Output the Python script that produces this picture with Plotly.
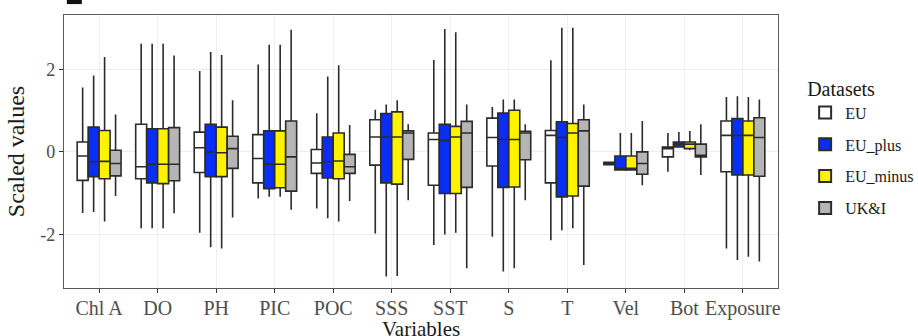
import plotly.graph_objects as go

categories = ["Chl A", "DO", "PH", "PIC", "POC", "SSS", "SST", "S", "T", "Vel", "Bot", "Exposure"]
datasets = ["EU", "EU_plus", "EU_minus", "UK&I"]
fill_colors = ["#FFFFFF", "#0A2EF5", "#FFF200", "#B5B5B5"]

# EU
eu_low = [-1.48, -1.85, -1.96, -1.13, -1.37, -1.98, -2.26, -2.06, -2.14, -0.33, -0.48, -2.34]
eu_q1 = [-0.69, -0.65, -0.50, -0.75, -0.52, -0.32, -0.81, -0.34, -0.75, -0.31, -0.12, -0.48]
eu_med = [-0.10, -0.36, 0.10, -0.16, -0.27, 0.36, 0.30, 0.35, 0.40, -0.28, 0.08, 0.40]
eu_q3 = [0.24, 0.67, 0.48, 0.42, 0.06, 0.78, 0.46, 0.82, 0.52, -0.25, 0.12, 0.75]
eu_high = [1.56, 2.62, 1.96, 2.12, 0.94, 1.02, 2.23, 1.09, 2.22, -0.23, 0.46, 1.33]

# EU_plus
plus_low = [-1.46, -1.85, -2.31, -1.09, -1.61, -3.02, -2.00, -2.90, -1.90, -0.44, 0.12, -2.62]
plus_q1 = [-0.60, -0.75, -0.60, -0.89, -0.63, -0.75, -1.01, -0.86, -1.09, -0.44, 0.12, -0.56]
plus_med = [-0.24, -0.30, 0.00, -0.30, -0.24, 0.36, 0.28, 0.30, 0.35, -0.40, 0.19, 0.40]
plus_q3 = [0.60, 0.56, 0.67, 0.51, 0.36, 0.93, 0.67, 0.94, 0.73, -0.10, 0.24, 0.81]
plus_high = [1.85, 2.62, 2.42, 2.60, 1.83, 1.15, 2.98, 1.27, 3.01, 0.46, 0.48, 1.35]

# EU_minus
minus_low = [-1.69, -1.85, -2.34, -1.09, -1.69, -3.01, -1.96, -2.82, -1.85, -0.45, 0.04, -2.54]
minus_q1 = [-0.65, -0.77, -0.60, -0.87, -0.65, -0.78, -1.01, -0.85, -1.07, -0.44, 0.08, -0.56]
minus_med = [-0.23, -0.30, -0.02, -0.30, -0.22, 0.36, 0.36, 0.30, 0.46, -0.40, 0.19, 0.40]
minus_q3 = [0.52, 0.56, 0.60, 0.51, 0.46, 0.97, 0.62, 1.01, 0.69, -0.10, 0.24, 0.75]
minus_high = [2.30, 2.62, 2.35, 2.60, 2.10, 1.25, 2.90, 1.27, 3.01, 0.46, 0.51, 1.33]

# UK&I
uk_low = [-1.07, -1.49, -1.59, -1.40, -1.19, -1.17, -2.82, -1.17, -2.74, -0.81, -0.56, -2.66]
uk_q1 = [-0.58, -0.70, -0.40, -0.95, -0.52, -0.18, -0.86, -0.19, -0.83, -0.54, -0.12, -0.59]
uk_med = [-0.28, -0.30, 0.08, -0.12, -0.36, 0.46, 0.46, 0.46, 0.51, -0.28, -0.08, 0.35]
uk_q3 = [0.04, 0.59, 0.38, 0.75, -0.06, 0.51, 0.74, 0.50, 0.78, 0.00, 0.19, 0.83]
uk_high = [0.91, 2.34, 1.25, 2.96, 0.65, 0.67, 1.15, 0.67, 1.15, 0.75, 0.67, 1.27]

y_ticks = [-2, 0, 2]

stats = [
    (eu_low, eu_q1, eu_med, eu_q3, eu_high),
    (plus_low, plus_q1, plus_med, plus_q3, plus_high),
    (minus_low, minus_q1, minus_med, minus_q3, minus_high),
    (uk_low, uk_q1, uk_med, uk_q3, uk_high),
]

FONT = "Liberation Serif, Times New Roman, serif"

fig = go.Figure()
for name, col, (lo, q1, med, q3, hi) in zip(datasets, fill_colors, stats):
    fig.add_trace(go.Box(
        name=name,
        legendgroup=name,
        x=categories,
        lowerfence=lo, q1=q1, median=med, q3=q3, upperfence=hi,
        fillcolor=col,
        line=dict(color="#2b2b2b", width=1.6),
        whiskerwidth=0,
        boxpoints=False,
        hoverinfo="skip",
    ))

fig.update_layout(
    width=918, height=336,
    margin=dict(l=64, r=140, t=15, b=48, autoexpand=False),
    paper_bgcolor="white",
    plot_bgcolor="white",
    boxmode="group",
    boxgap=0.25,
    boxgroupgap=0,
    font=dict(family=FONT, color="#4d4d4d", size=17),
    showlegend=True,
    legend=dict(
        title=dict(text="Datasets", font=dict(family=FONT, size=20, color="#1a1a1a")),
        font=dict(family=FONT, size=16, color="#1a1a1a"),
        x=1.038, xanchor="left", y=0.80, yanchor="top",
        tracegroupgap=8,
        itemsizing="constant",
        bgcolor="rgba(0,0,0,0)",
    ),
    xaxis=dict(
        type="category",
        categoryorder="array", categoryarray=categories,
        range=[-0.6, 11.6],
        automargin=False,
        showgrid=True, gridcolor="#F0F0F0", gridwidth=1,
        showline=True, mirror=True, linecolor="#5a5a5a", linewidth=1.3,
        ticks="outside", ticklen=4, tickcolor="#333333", tickwidth=1.3,
        ticklabelstandoff=-2,
        tickfont=dict(family=FONT, size=20, color="#4d4d4d"),
        zeroline=False,
    ),
    yaxis=dict(
        range=[-3.3, 3.32],
        automargin=False,
        tickvals=y_ticks,
        ticktext=[str(v) for v in y_ticks],
        showgrid=True, gridcolor="#EEEEEE", gridwidth=1,
        showline=True, mirror=True, linecolor="#5a5a5a", linewidth=1.3,
        ticks="outside", ticklen=4, tickcolor="#333333", tickwidth=1.3,
        tickfont=dict(family=FONT, size=18, color="#4d4d4d"),
        title=dict(text="Scaled values", font=dict(family=FONT, size=24, color="#1a1a1a"), standoff=8),
        zeroline=False,
    ),
    annotations=[dict(
        text="Variables", xref="paper", yref="paper",
        x=0.5, y=-0.152, xanchor="center", yanchor="middle",
        showarrow=False,
        font=dict(family=FONT, size=21, color="#1a1a1a"),
    )],
    shapes=[dict(
        type="rect", xref="paper", yref="paper",
        x0=0.004, x1=0.025, y0=1.04, y1=1.06,
        fillcolor="#111111", line=dict(width=0),
    )],
)

fig.write_html("out.html")
